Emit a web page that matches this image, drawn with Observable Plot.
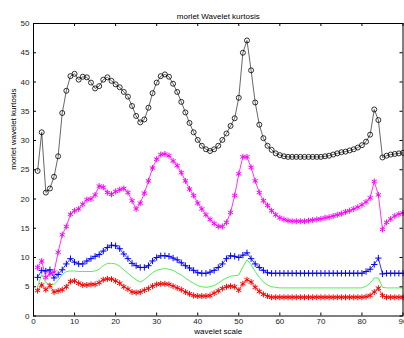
<!DOCTYPE html>
<html><head><meta charset="utf-8">
<script src="https://cdn.jsdelivr.net/npm/d3@7"></script>
<script src="https://cdn.jsdelivr.net/npm/@observablehq/plot@0.6"></script>
<style>html,body{margin:0;padding:0;background:#fff}svg{display:block}</style>
</head><body><div id="chart"></div>
<script>
const scales = [1,2,3,4,5,6,7,8,9,10,11,12,13,14,15,16,17,18,19,20,21,22,23,24,25,26,27,28,29,30,
31,32,33,34,35,36,37,38,39,40,41,42,43,44,45,46,47,48,49,50,51,52,53,54,55,56,57,58,59,60,
61,62,63,64,65,66,67,68,69,70,71,72,73,74,75,76,77,78,79,80,81,82,83,84,85,86,87,88,89,90];

const blackSeries = [24.8,31.4,21.1,21.8,23.8,27.3,34.7,38.5,41.0,41.4,40.4,40.9,40.8,39.9,38.9,39.3,40.4,40.8,40.2,39.6,
39.1,38.3,37.5,35.9,34.2,33.1,33.6,35.6,38.1,39.9,41.0,41.3,40.9,39.7,38.3,36.6,34.8,33.0,31.4,30.1,
29.1,28.5,28.2,28.5,29.1,30.1,31.2,32.5,33.8,37.3,45.0,47.1,42.0,36.5,32.7,30.4,29.1,28.4,27.8,27.5,
27.3,27.2,27.2,27.2,27.2,27.2,27.2,27.2,27.2,27.2,27.3,27.4,27.6,27.8,28.0,28.1,28.3,28.5,28.8,29.2,
29.8,31.0,35.3,33.5,27.1,27.4,27.6,27.7,27.8,27.9];

const magentaSeries = [8.3,9.4,6.6,7.2,7.5,10.9,13.9,15.3,17.4,18.0,18.3,19.1,19.9,20.0,20.7,22.2,22.0,21.1,20.8,21.3,
21.6,21.8,21.1,19.7,18.3,19.3,21.0,23.1,25.3,26.8,27.6,27.7,27.4,26.5,25.7,24.5,23.1,21.7,20.6,19.3,
18.3,17.3,16.5,15.8,15.3,15.3,16.0,17.7,20.6,24.3,27.2,27.2,25.4,23.1,21.1,19.7,18.9,18.0,17.3,16.8,
16.5,16.3,16.2,16.2,16.2,16.2,16.3,16.4,16.5,16.6,16.8,16.9,17.1,17.3,17.5,17.8,18.0,18.3,18.6,19.0,
19.5,20.2,23.0,20.7,14.8,16.0,16.6,17.1,17.4,17.6];

const blueSeries = [6.6,7.8,7.7,7.9,6.5,7.1,7.9,8.9,9.8,9.2,8.9,8.9,9.4,9.8,10.2,10.5,11.1,11.7,12.1,12.0,
11.5,10.6,9.8,9.0,8.6,8.3,8.3,8.6,9.4,10.0,10.3,10.3,10.2,9.9,9.6,9.1,8.6,8.2,7.8,7.4,
7.3,7.3,7.5,7.8,8.3,8.9,9.8,10.3,10.2,10.0,10.4,10.8,9.8,8.9,8.3,7.8,7.4,7.3,7.3,7.3,
7.3,7.3,7.3,7.3,7.3,7.3,7.3,7.3,7.3,7.3,7.3,7.3,7.3,7.3,7.3,7.3,7.3,7.3,7.3,7.3,
7.6,8.0,8.8,9.9,7.2,7.3,7.3,7.3,7.3,7.3];

const greenSeries = [5.0,7.1,5.7,5.4,5.4,6.1,7.1,7.6,7.7,7.7,7.6,7.6,7.6,7.6,7.7,8.0,8.6,9.0,9.0,8.9,
8.5,7.9,7.3,6.7,6.2,5.8,6.2,6.8,7.4,7.8,8.0,8.1,8.0,7.8,7.4,7.0,6.5,6.0,5.6,5.2,
5.0,4.9,5.0,5.2,5.6,6.1,6.5,6.8,6.9,7.0,8.4,9.6,8.8,7.6,6.6,5.8,5.3,5.0,4.9,4.8,
4.8,4.8,4.8,4.8,4.8,4.8,4.8,4.8,4.8,4.8,4.8,4.8,4.8,4.8,4.8,4.8,4.8,4.8,4.8,4.8,
5.1,5.6,6.5,6.5,4.9,4.8,4.8,4.8,4.8,4.8];

const redSeries = [4.35,5.3,4.5,5.2,4.1,4.3,4.5,5.0,5.9,6.0,5.6,5.3,5.3,5.4,5.4,5.7,6.2,6.35,6.3,6.0,
5.6,5.0,4.6,4.1,4.0,4.1,4.4,4.7,5.1,5.4,5.5,5.5,5.4,5.1,4.8,4.5,4.1,3.8,3.5,3.4,
3.4,3.4,3.5,3.9,4.3,4.7,5.0,5.1,5.0,4.4,5.5,6.2,5.8,4.9,4.2,3.7,3.4,3.2,3.2,3.2,
3.2,3.2,3.2,3.2,3.2,3.2,3.2,3.2,3.2,3.2,3.2,3.2,3.2,3.2,3.2,3.2,3.2,3.2,3.2,3.2,
3.3,3.5,4.1,4.75,3.5,3.2,3.2,3.2,3.2,3.2];

const xTicks = [0,10,20,30,40,50,60,70,80,90];
const yTicks = [0,5,10,15,20,25,30,35,40,45,50];
const titleText = "morlet Wavelet kurtosis";
const xLabel = "wavelet scale";
const yLabel = "morlet wavelet kurtosis";

const W = 404, H = 338;
const mL = 33, mR = 1.5, mT = 23, mB = 22.5;
const pw = W - mL - mR, ph = H - mT - mB;

const rows = (vals) => scales.map((s, i) => ({x: s, y: vals[i]}));
const kD = rows(blackSeries), mD = rows(magentaSeries), bD = rows(blueSeries), gD = rows(greenSeries), rD = rows(redSeries);

const chart = Plot.plot({
  width: W, height: H,
  marginLeft: mL, marginRight: mR, marginTop: mT, marginBottom: mB,
  style: {fontFamily: "'Liberation Sans', Arial, sans-serif", fontSize: "8px", color: "#000", background: "#fff"},
  x: {domain: [0, 90]},
  y: {domain: [0, 50]},
  marks: [
    Plot.line(kD, {x: "x", y: "y", stroke: "#000", strokeWidth: 0.6}),
    Plot.line(mD, {x: "x", y: "y", stroke: "#ff00ff", strokeWidth: 0.8}),
    Plot.line(bD, {x: "x", y: "y", stroke: "#0000ff", strokeWidth: 0.8}),
    Plot.line(gD, {x: "x", y: "y", stroke: "#22ee22", strokeWidth: 0.8}),
    Plot.line(rD, {x: "x", y: "y", stroke: "#ff0000", strokeWidth: 0.8}),
    Plot.dot(kD, {x: "x", y: "y", r: 2.5, stroke: "#000", strokeWidth: 0.8, fill: "none"}),
    Plot.dot(mD, {x: "x", y: "y", symbol: "asterisk", r: 2.8, stroke: "#ff00ff", strokeWidth: 1}),
    Plot.dot(bD, {x: "x", y: "y", symbol: "plus", r: 2.2, stroke: "#0000ff", strokeWidth: 1}),
    Plot.dot(rD, {x: "x", y: "y", symbol: "asterisk", r: 2.8, stroke: "#ff0000", strokeWidth: 1}),
    Plot.tickY(yTicks, {y: d => d, insetRight: pw - 3, stroke: "#000", strokeWidth: 1}),
    Plot.tickY(yTicks, {y: d => d, insetLeft: pw - 3, stroke: "#000", strokeWidth: 1}),
    Plot.tickX(xTicks, {x: d => d, insetTop: ph - 3, stroke: "#000", strokeWidth: 1}),
    Plot.tickX(xTicks, {x: d => d, insetBottom: ph - 3, stroke: "#000", strokeWidth: 1}),
    Plot.axisX({ticks: xTicks, tickSize: 0, tickPadding: 2, label: null, fill: "#222"}),
    Plot.axisY({ticks: yTicks, tickSize: 0, tickPadding: 4, label: null, fill: "#222"}),
    Plot.frame({stroke: "#000", strokeWidth: 1}),
    Plot.text([titleText], {text: d => d, frameAnchor: "top", dy: -10, fontSize: 8, fill: "#000"}),
    Plot.text([xLabel], {text: d => d, frameAnchor: "bottom", dy: 17.5, fontSize: 8, fill: "#000"}),
    Plot.text([yLabel], {text: d => d, frameAnchor: "left", dx: -20, rotate: -90, fontSize: 8, fill: "#000"})
  ]
});
document.getElementById("chart").appendChild(chart);
</script>
</body></html>
